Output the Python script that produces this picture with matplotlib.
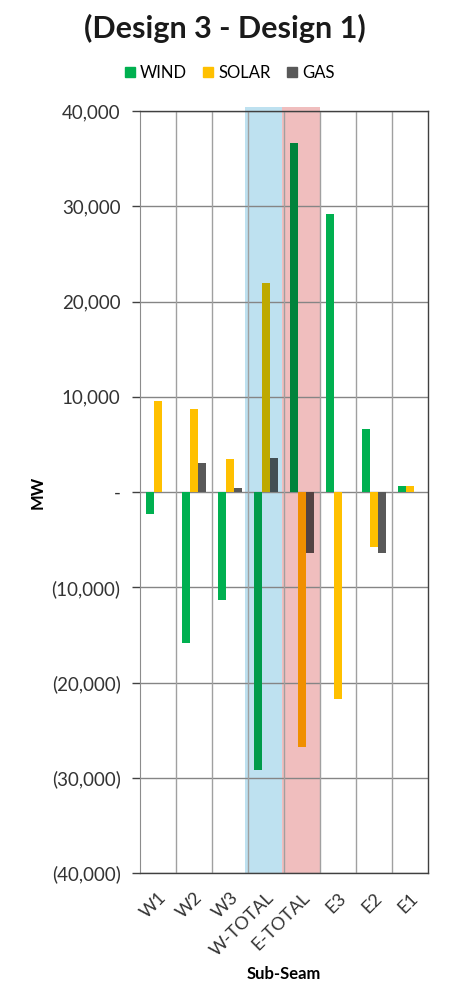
import matplotlib
matplotlib.use("Agg")
import matplotlib.pyplot as plt
from matplotlib.patches import Rectangle
from matplotlib.ticker import FuncFormatter, MultipleLocator
from matplotlib.colors import to_rgb
import numpy as np

plt.rcParams['font.family'] = ['Lato', 'DejaVu Sans']

categories = ["W1", "W2", "W3", "W-TOTAL", "E-TOTAL", "E3", "E2", "E1"]
wind = [-2300, -15800, -11300, -29200, 36700, 29200, 6600, 600]
solar = [9600, 8700, 3450, 21900, -26800, -21750, -5800, 600]
gas = [0, 3050, 400, 3550, -6350, 0, -6350, 0]

series = [("WIND", wind, "#00B050"), ("SOLAR", solar, "#FFC000"), ("GAS", gas, "#595959")]

# translucent highlight bands over the two total columns (multiply-style tint)
bands = {"W-TOTAL": ((2.42, 3.45), "#BEE1F0"), "E-TOTAL": ((3.45, 4.5), "#F0BEBE")}

fig = plt.figure(figsize=(4.49, 9.83), dpi=100)
ax = fig.add_axes([0.3118, 0.1119, 0.9532 - 0.3118, 0.887 - 0.1119])

x = np.arange(len(categories))
bw = 0.22
for i, (name, vals, col) in enumerate(series):
    cols = []
    for cat in categories:
        base = np.array(to_rgb(col))
        if cat in bands:
            base = base * np.array(to_rgb(bands[cat][1]))
        cols.append(tuple(base))
    ax.bar(x + (i - 1) * bw, vals, width=bw, color=cols, label=name, zorder=3)

ax.set_xlim(-0.5, len(categories) - 0.5)
ax.set_ylim(-40000, 40000)

for cat, ((x0, x1), c) in bands.items():
    ax.add_patch(Rectangle((x0, -40000), x1 - x0, 80400, facecolor=c,
                           edgecolor='none', zorder=0.5, clip_on=False))

# horizontal gridlines
ax.yaxis.set_major_locator(MultipleLocator(10000))
ax.grid(axis='y', color='#858585', linewidth=1.0, zorder=1)
ax.set_axisbelow(True)

# vertical separators between categories
for b in np.arange(0.5, len(categories) - 0.5, 1):
    ax.axvline(b, color='#a0a0a0', linewidth=1.0, zorder=1)

def fmt(v, pos):
    if abs(v) < 1e-6:
        return "-"
    if v < 0:
        return "({:,.0f})".format(-v)
    return "{:,.0f}".format(v)

ax.yaxis.set_major_formatter(FuncFormatter(fmt))
ax.tick_params(axis='y', labelsize=13.5, colors='#404040', length=6, width=1, pad=8,
               labelcolor='#333333')
ax.tick_params(axis='x', length=0, labelsize=13, pad=12, labelcolor='#333333')
ax.set_xticks(x)
ax.set_xticklabels(categories, rotation=45, ha='right', rotation_mode='anchor')

for s in ['top', 'right', 'bottom']:
    ax.spines[s].set_color('#404040')
    ax.spines[s].set_linewidth(1.0)
ax.spines['left'].set_color('#8c8c8c')

ax.set_ylabel("MW", fontsize=12, fontweight='bold', va='center')
ax.yaxis.set_label_coords(-0.354, 0.5)
ax.set_xlabel("Sub-Seam", fontsize=12, fontweight='bold', va='center')
ax.xaxis.set_label_coords(0.5, -0.132)

fig.text(0.5, 0.971, "(Design 3 - Design 1)", ha='center', va='center',
         fontsize=22, fontweight='bold', color='#1a1a1a')

handles = [Rectangle((0, 0), 1, 1, color=c) for _, _, c in series]
fig.legend(handles, [n for n, _, _ in series], loc='center', bbox_to_anchor=(0.512, 0.926),
           ncol=3, frameon=False, fontsize=12, handlelength=0.6, handleheight=0.6,
           handletextpad=0.3, columnspacing=1.0)

fig.savefig("out.png", dpi=100)
